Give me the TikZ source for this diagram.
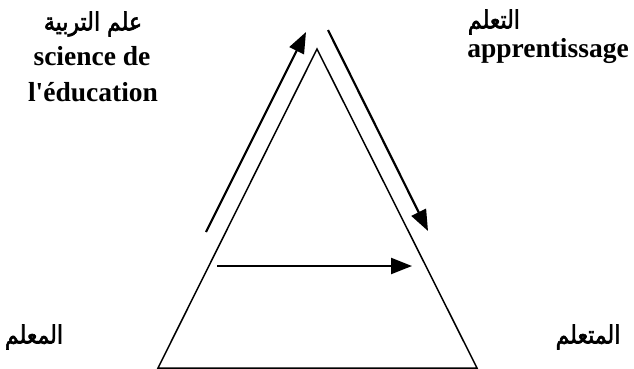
\documentclass[tikz,border=0pt]{standalone}
\usepackage{fontspec}
\usepackage{graphicx}
\setmainfont{Liberation Serif}
\newfontfamily\arabicfont[Script=Arabic,FakeBold=2.5]{DejaVu Sans}
\TeXXeTstate=1
\usetikzlibrary{arrows.meta}
\newcommand{\artext}[1]{\scalebox{0.88}[1]{\arabicfont\fontsize{25}{28}\selectfont\beginR #1\endR}}
\tikzset{
  lbl/.style={font=\fontsize{27.5}{33}\selectfont\bfseries, inner sep=0pt, anchor=base},
  ar/.style={inner sep=0pt},
  tri/.style={draw, line width=1.5pt},
  arr/.style={line width=2.2pt, -{Triangle[length=21pt,width=16pt]}}
}
\begin{document}
\begin{tikzpicture}[x=1pt,y=-1pt]
\useasboundingbox (0,0) rectangle (634,369);
\coordinate (top) at (317,49);
\coordinate (bl) at (158,368);
\coordinate (br) at (477,368);
\draw[tri] (top) -- (bl) -- (br) -- cycle;
\coordinate (a1s) at (206,232);
\coordinate (a1e) at (306,32);
\coordinate (a2s) at (328,30);
\coordinate (a2e) at (428,231);
\coordinate (a3s) at (217,266);
\coordinate (a3e) at (412,266);
\draw[arr] (a1s) -- (a1e);
\draw[arr] (a2s) -- (a2e);
\draw[arr] (a3s) -- (a3e);
\node[ar] (ar1) at (93,24) {\artext{علم التربية}};
\node[lbl] (sci) at (92,66) {science de};
\node[lbl] (edu) at (93,101) {l\textquotesingle éducation};
\node[ar] (ar2) at (494,22) {\artext{التعلم}};
\node[lbl] (app) at (548,57) {apprentissage};
\node[ar] (ar3) at (34,337) {\artext{المعلم}};
\node[ar] (ar4) at (588,337) {\artext{المتعلم}};
\end{tikzpicture}
\end{document}
